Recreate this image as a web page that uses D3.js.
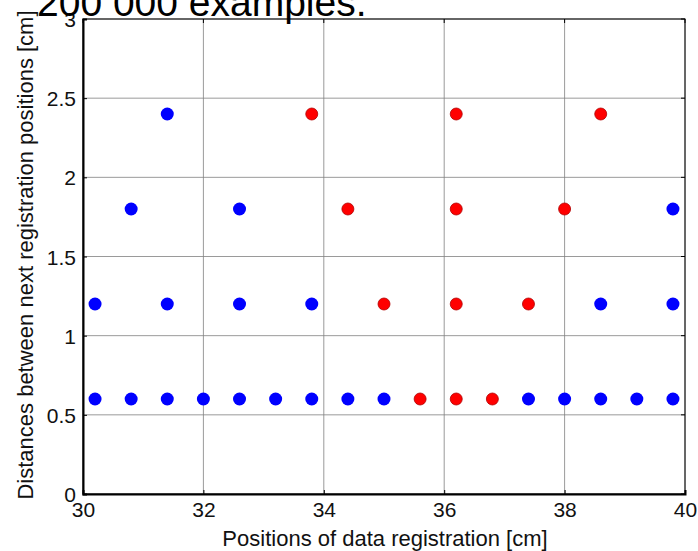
<!DOCTYPE html>
<html>
<head>
<meta charset="utf-8">
<script src="https://cdn.jsdelivr.net/npm/d3@7"></script>
<style>
  body { margin: 0; background: #fff; }
  text { font-family: "Liberation Sans", Arial, sans-serif; }
</style>
</head>
<body>
<div id="vis"></div>
<script>
// frame
const FRAME_WIDTH = 698;
const FRAME_HEIGHT = 551;
const MARGINS = {left: 83, right: 13, top: 19, bottom: 57};
const VIS_WIDTH = FRAME_WIDTH - MARGINS.left - MARGINS.right;
const VIS_HEIGHT = FRAME_HEIGHT - MARGINS.top - MARGINS.bottom;

// data
const BLUE_X = [30.2, 30.8, 31.4, 32.0, 32.6, 33.2, 33.8, 34.4, 35.0, 37.4, 38.0, 38.6, 39.2, 39.8,
                30.2, 31.4, 32.6, 33.8, 38.6, 39.8,
                30.8, 32.6, 39.8,
                31.4];
const BLUE_Y = [0.6, 0.6, 0.6, 0.6, 0.6, 0.6, 0.6, 0.6, 0.6, 0.6, 0.6, 0.6, 0.6, 0.6,
                1.2, 1.2, 1.2, 1.2, 1.2, 1.2,
                1.8, 1.8, 1.8,
                2.4];
const RED_X = [35.6, 36.2, 36.8, 35.0, 36.2, 37.4, 34.4, 36.2, 38.0, 33.8, 36.2, 38.6];
const RED_Y = [0.6, 0.6, 0.6, 1.2, 1.2, 1.2, 1.8, 1.8, 1.8, 2.4, 2.4, 2.4];
const X_TICKS = [30, 32, 34, 36, 38, 40];
const Y_TICKS = [0, 0.5, 1, 1.5, 2, 2.5, 3];

const FRAME = d3.select("#vis")
                .append("svg")
                  .attr("width", FRAME_WIDTH)
                  .attr("height", FRAME_HEIGHT);

const X_SCALE = d3.scaleLinear().domain([30, 40]).range([0, VIS_WIDTH]);
const Y_SCALE = d3.scaleLinear().domain([0, 3]).range([VIS_HEIGHT, 0]);

const PLOT = FRAME.append("g")
  .attr("transform", "translate(" + MARGINS.left + "," + MARGINS.top + ")");

// grid
PLOT.selectAll(".vgrid")
  .data(X_TICKS)
  .enter()
  .append("line")
    .attr("x1", d => X_SCALE(d)).attr("x2", d => X_SCALE(d))
    .attr("y1", 0).attr("y2", VIS_HEIGHT)
    .attr("stroke", "#808080").attr("stroke-width", 0.8);

PLOT.selectAll(".hgrid")
  .data(Y_TICKS)
  .enter()
  .append("line")
    .attr("x1", 0).attr("x2", VIS_WIDTH)
    .attr("y1", d => Y_SCALE(d)).attr("y2", d => Y_SCALE(d))
    .attr("stroke", "#808080").attr("stroke-width", 0.8);

// box (top + right thin)
PLOT.append("rect")
  .attr("x", 0).attr("y", 0)
  .attr("width", VIS_WIDTH).attr("height", VIS_HEIGHT)
  .attr("fill", "none").attr("stroke", "#000").attr("stroke-width", 1);

// axes
const xAxis = PLOT.append("g")
  .attr("transform", "translate(0," + VIS_HEIGHT + ")")
  .call(d3.axisBottom(X_SCALE).tickValues(X_TICKS).tickSize(-4).tickPadding(8).tickFormat(d3.format("d")));
const yAxis = PLOT.append("g")
  .call(d3.axisLeft(Y_SCALE).tickValues(Y_TICKS).tickSize(-4).tickPadding(7).tickFormat(d => d));

[xAxis, yAxis].forEach(ax => {
  ax.select(".domain").attr("stroke", "#000").attr("stroke-width", 2);
  ax.selectAll(".tick line").attr("stroke", "#000");
  ax.selectAll(".tick text")
    .attr("font-family", "Liberation Sans, Arial, sans-serif")
    .attr("font-size", "21px").attr("fill", "#111");
});
yAxis.selectAll(".tick text").attr("dy", "0.36em");

// top/right ticks
PLOT.selectAll(".ttick")
  .data(X_TICKS)
  .enter()
  .append("line")
    .attr("x1", d => X_SCALE(d)).attr("x2", d => X_SCALE(d))
    .attr("y1", 0).attr("y2", 4).attr("stroke", "#000");
PLOT.selectAll(".rtick")
  .data(Y_TICKS)
  .enter()
  .append("line")
    .attr("x1", VIS_WIDTH).attr("x2", VIS_WIDTH - 4)
    .attr("y1", d => Y_SCALE(d)).attr("y2", d => Y_SCALE(d)).attr("stroke", "#000");

// points
PLOT.selectAll(".blue")
  .data(BLUE_X)
  .enter()
  .append("circle")
    .attr("cx", d => X_SCALE(d))
    .attr("cy", (d, i) => Y_SCALE(BLUE_Y[i]))
    .attr("r", 6.5)
    .attr("fill", "#0000ff");

PLOT.selectAll(".red")
  .data(RED_X)
  .enter()
  .append("circle")
    .attr("cx", d => X_SCALE(d))
    .attr("cy", (d, i) => Y_SCALE(RED_Y[i]))
    .attr("r", 6)
    .attr("fill", "#ff0000")
    .attr("stroke", "#b00000").attr("stroke-width", 0.8);

// labels
FRAME.append("text")
  .attr("x", 37).attr("y", 16)
  .attr("font-size", "39px")
  .attr("fill", "#000")
  .text("200 000 examples.");

FRAME.append("text")
  .attr("x", MARGINS.left + VIS_WIDTH / 2 + 1).attr("y", 546)
  .attr("text-anchor", "middle")
  .attr("font-size", "22px").attr("fill", "#111")
  .text("Positions of data registration [cm]");

FRAME.append("text")
  .attr("transform", "translate(33,255) rotate(-90)")
  .attr("text-anchor", "middle")
  .attr("font-size", "22px").attr("fill", "#111")
  .text("Distances between next registration positions [cm]");
</script>
</body>
</html>
